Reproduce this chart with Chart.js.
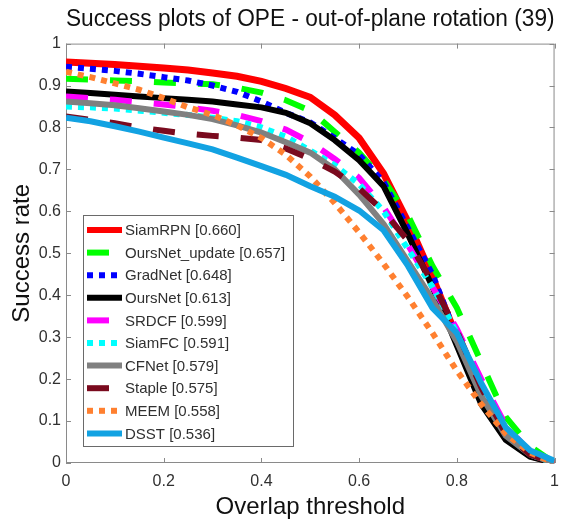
<!DOCTYPE html>
<html>
<head>
<meta charset="utf-8">
<script src="https://cdn.jsdelivr.net/npm/chart.js@4.4.1/dist/chart.umd.min.js"></script>
<style>
  html, body { margin: 0; padding: 0; background: #fff; }
  #wrap { width: 568px; height: 525px; }
</style>
</head>
<body>
<div id="wrap"><canvas id="successChart" width="568" height="525"></canvas></div>
<script>
// overlap thresholds (x axis)
const thresholds = [0, 0.05, 0.1, 0.15, 0.2, 0.25, 0.3, 0.35, 0.4, 0.45, 0.5,
                    0.55, 0.6, 0.65, 0.7, 0.75, 0.8, 0.85, 0.9, 0.95, 1];

const trackerNames = ['SiamRPN', 'OursNet_update', 'GradNet', 'OursNet', 'SRDCF',
                      'SiamFC', 'CFNet', 'Staple', 'MEEM', 'DSST'];
const trackerScores = ['0.660', '0.657', '0.648', '0.613', '0.599',
                       '0.591', '0.579', '0.575', '0.558', '0.536'];

const siamRPN       = [0.956, 0.953, 0.950, 0.946, 0.942, 0.937, 0.930, 0.922, 0.910, 0.893, 0.872,
                       0.830, 0.775, 0.690, 0.575, 0.444, 0.300, 0.150, 0.060, 0.018, 0];
const oursNetUpdate = [0.916, 0.914, 0.912, 0.910, 0.907, 0.905, 0.903, 0.895, 0.883, 0.865, 0.840,
                       0.790, 0.740, 0.675, 0.590, 0.470, 0.370, 0.240, 0.110, 0.040, 0];
const gradNet       = [0.945, 0.940, 0.935, 0.928, 0.920, 0.912, 0.900, 0.885, 0.862, 0.835, 0.812,
                       0.775, 0.735, 0.670, 0.560, 0.450, 0.300, 0.180, 0.075, 0.020, 0];
const oursNet       = [0.886, 0.882, 0.878, 0.874, 0.870, 0.866, 0.862, 0.855, 0.848, 0.835, 0.810,
                       0.770, 0.722, 0.660, 0.545, 0.420, 0.280, 0.140, 0.055, 0.015, 0];
const srdcf         = [0.874, 0.870, 0.866, 0.860, 0.855, 0.848, 0.840, 0.830, 0.815, 0.795, 0.765,
                       0.725, 0.680, 0.610, 0.520, 0.420, 0.320, 0.200, 0.090, 0.025, 0];
const siamFC        = [0.850, 0.848, 0.845, 0.840, 0.835, 0.830, 0.823, 0.815, 0.800, 0.778, 0.745,
                       0.710, 0.665, 0.600, 0.510, 0.420, 0.310, 0.170, 0.070, 0.020, 0];
const cfNet         = [0.862, 0.858, 0.853, 0.846, 0.838, 0.830, 0.820, 0.805, 0.788, 0.765, 0.740,
                       0.700, 0.640, 0.570, 0.480, 0.390, 0.290, 0.160, 0.065, 0.020, 0];
const staple        = [0.826, 0.818, 0.810, 0.800, 0.792, 0.785, 0.780, 0.776, 0.770, 0.750, 0.725,
                       0.695, 0.655, 0.600, 0.530, 0.430, 0.315, 0.180, 0.070, 0.020, 0];
const meem          = [0.933, 0.920, 0.905, 0.890, 0.870, 0.848, 0.830, 0.805, 0.775, 0.735, 0.683,
                       0.620, 0.550, 0.475, 0.395, 0.310, 0.220, 0.140, 0.070, 0.025, 0];
const dsst          = [0.823, 0.815, 0.803, 0.790, 0.776, 0.762, 0.748, 0.728, 0.708, 0.687, 0.660,
                       0.635, 0.602, 0.555, 0.470, 0.370, 0.310, 0.190, 0.085, 0.030, 0.005];

const xTicks = [0, 0.2, 0.4, 0.6, 0.8, 1];
const yTicks = [0, 0.1, 0.2, 0.3, 0.4, 0.5, 0.6, 0.7, 0.8, 0.9, 1];

const seriesValues = [siamRPN, oursNetUpdate, gradNet, oursNet, srdcf, siamFC, cfNet, staple, meem, dsst];
const seriesColors = ['#ff0000', '#00ff00', '#0000ff', '#000000', '#ff00ff',
                      '#00ffff', '#808080', '#7a0a1e', '#ff8030', '#12a2e2'];
const DASH = [22, 22], DOT = [6, 6], SOLID = [];
const seriesDash = [SOLID, DASH, DOT, SOLID, DASH, DOT, SOLID, DASH, DOT, SOLID];

const axisColor = '#8a8a8a';
const textColor = '#303030';

const datasets = trackerNames.map((name, i) => ({
  label: name + ' [' + trackerScores[i] + ']',
  data: seriesValues[i].map((v, j) => ({ x: thresholds[j], y: v })),
  borderColor: seriesColors[i],
  backgroundColor: seriesColors[i],
  borderDash: seriesDash[i],
  borderWidth: i === 0 ? 7 : 6,
  pointRadius: 0,
  tension: 0,
  fill: false,
  order: trackerNames.length - i   // later trackers drawn on top
}));

// box around plot + inward ticks on all four sides
const boxPlugin = {
  id: 'matlabBox',
  beforeDatasetsDraw(chart) {
    const { ctx, chartArea: a, scales: { x, y } } = chart;
    ctx.save();
    ctx.strokeStyle = axisColor;
    ctx.lineWidth = 1;
    ctx.strokeRect(a.left + 0.5, a.top + 0.5, a.right - a.left - 1, a.bottom - a.top - 1);
    ctx.beginPath();
    xTicks.forEach(t => {
      const px = Math.round(x.getPixelForValue(t)) + 0.5;
      ctx.moveTo(px, a.bottom); ctx.lineTo(px, a.bottom - 5);
      ctx.moveTo(px, a.top); ctx.lineTo(px, a.top + 5);
    });
    yTicks.forEach(t => {
      const py = Math.round(y.getPixelForValue(t)) + 0.5;
      ctx.moveTo(a.left, py); ctx.lineTo(a.left + 5, py);
      ctx.moveTo(a.right, py); ctx.lineTo(a.right - 5, py);
    });
    ctx.stroke();
    ctx.restore();
  }
};

// legend box inside the plot (MATLAB "southwest" style)
const legendPlugin = {
  id: 'insideLegend',
  afterDatasetsDraw(chart) {
    const { ctx } = chart;
    const left = 83, top = 215, w = 210, h = 231, rowH = 22.6;
    ctx.save();
    ctx.fillStyle = '#fff';
    ctx.fillRect(left, top, w, h);
    ctx.strokeStyle = '#6a6a6a';
    ctx.lineWidth = 1;
    ctx.strokeRect(left + 0.5, top + 0.5, w, h);
    ctx.font = '15px "Liberation Sans", Arial, sans-serif';
    ctx.textBaseline = 'middle';
    chart.data.datasets.forEach((ds, i) => {
      const cy = top + 15 + i * rowH;
      ctx.beginPath();
      ctx.setLineDash(ds.borderDash);
      ctx.lineDashOffset = 0;
      ctx.strokeStyle = ds.borderColor;
      ctx.lineWidth = 6;
      ctx.moveTo(left + 4, cy);
      ctx.lineTo(left + 39, cy);
      ctx.stroke();
      ctx.setLineDash([]);
      ctx.fillStyle = textColor;
      ctx.fillText(ds.label, left + 42, cy + 1);
    });
    ctx.restore();
  }
};

const ctx = document.getElementById('successChart').getContext('2d');
const successChart = new Chart(ctx, {
  type: 'line',
  data: { datasets: datasets },
  options: {
    responsive: false,
    animation: false,
    layout: { padding: { left: 0, right: 13, top: 0, bottom: 0 } },
    plugins: {
      legend: { display: false },
      tooltip: { enabled: false },
      title: {
        display: true,
        fullSize: false,
        text: 'Success plots of OPE - out-of-plane rotation (39)',
        color: '#111',
        font: { family: '"Liberation Sans", Arial, sans-serif', size: 23, weight: 'normal' },
        padding: { top: 6, bottom: 10 }
      }
    },
    scales: {
      x: {
        type: 'linear',
        min: 0, max: 1,
        afterBuildTicks: s => { s.ticks = xTicks.map(v => ({ value: v })); },
        afterFit: s => { s.height = 62; },
        grid: { display: false, drawTicks: false },
        border: { display: false },
        ticks: {
          color: textColor,
          padding: 9,
          maxRotation: 0,
          font: { family: '"Liberation Sans", Arial, sans-serif', size: 16 },
          callback: v => String(v)
        },
        title: {
          display: true,
          text: 'Overlap threshold',
          color: '#111',
          font: { family: '"Liberation Sans", Arial, sans-serif', size: 24 },
          padding: { top: 0, bottom: 3 }
        }
      },
      y: {
        type: 'linear',
        min: 0, max: 1,
        afterBuildTicks: s => { s.ticks = yTicks.map(v => ({ value: v })); },
        afterFit: s => { s.width = 66; },
        grid: { display: false, drawTicks: false },
        border: { display: false },
        ticks: {
          color: textColor,
          padding: 5,
          font: { family: '"Liberation Sans", Arial, sans-serif', size: 16 },
          callback: v => String(Math.round(v * 10) / 10)
        },
        title: {
          display: true,
          text: 'Success rate',
          color: '#111',
          font: { family: '"Liberation Sans", Arial, sans-serif', size: 24 },
          padding: { top: 8, bottom: 0 }
        }
      }
    }
  },
  plugins: [boxPlugin, legendPlugin]
});
</script>
</body>
</html>
